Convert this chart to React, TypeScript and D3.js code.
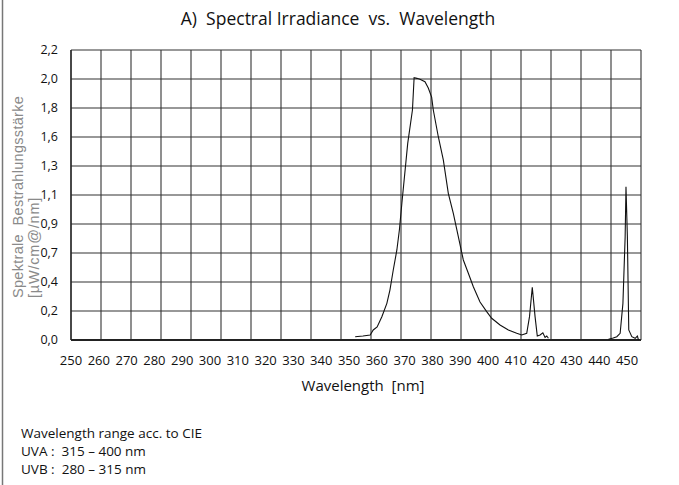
import * as d3 from 'd3';

// wavelength [nm] / spectral irradiance, null = gap in the trace
const wavelengths = [
  352.2, 355.0, 357.6, 358.7, 360.1, 361.8, 363.6, 364.7, 365.9, 367.2, 368.1, 369.0,
  370.4, 371.1, 372.8, 373.4, 374.4, 375.5, 377.3, 378.5, 379.7, 380.3, 382.1, 383.9,
  385.7, 387.5, 389.3, 391.1, 392.9, 394.7, 397.1, 399.5, 401.3, 404.3, 407.3, 410.3,
  412.1, 413.9, 414.9, 415.9, 416.9, 417.7, 418.7, 419.7, 420.5, 421.1, 421.7,
  430.0,
  443.3, 445.0, 446.3, 447.5, 448.5, 449.3, 449.6, 450.1, 450.6, 451.7, 452.9, 453.7, 454.1,
];
const irradiance: (number | null)[] = [
  0.025, 0.03, 0.038, 0.076, 0.099, 0.177, 0.278, 0.379, 0.531, 0.683, 0.834, 1.037,
  1.34, 1.492, 1.745, 1.99, 1.985, 1.978, 1.96, 1.912, 1.843, 1.745, 1.542, 1.366,
  1.113, 0.961, 0.784, 0.607, 0.506, 0.404, 0.288, 0.215, 0.165, 0.114, 0.076, 0.051,
  0.038, 0.051, 0.177, 0.40, 0.177, 0.03, 0.038, 0.055, 0.02, 0.03, 0.013,
  null,
  0.005, 0.015, 0.025, 0.051, 0.278, 0.784, 1.163, 0.784, 0.076, 0.025, 0.013, 0.03, 0.0,
];

const xTicks = d3.range(250, 451, 10);
const yTickLabels = ['0,0', '0,2', '0,4', '0,7', '0,9', '1,1', '1,3', '1,6', '1,8', '2,0', '2,2'];
const yStep = 0.22;
const gridColumns = 19;

const notes = ['Wavelength range acc. to CIE', 'UVA :  315 – 400 nm', 'UVB :  280 – 315 nm'];

const W = 679;
const H = 485;
const plot = { left: 71, right: 641, top: 50, bottom: 340 };
const font = '"Open Sans", "Noto Sans", sans-serif';

export default function App() {
  const x = d3.scaleLinear().domain([250, 455]).range([plot.left, plot.right]);
  const y = d3.scaleLinear().domain([0, 2.2]).range([plot.bottom, plot.top]);
  const col = d3.scaleLinear().domain([0, gridColumns]).range([plot.left, plot.right]);

  const pts = wavelengths.map((w, i) => [w, irradiance[i]] as [number, number | null]);
  const line = d3
    .line<[number, number | null]>()
    .defined((d) => d[1] !== null)
    .x((d) => x(d[0]))
    .y((d) => y(d[1] as number));

  const rows = yTickLabels.map((l, i) => ({ label: l, v: i * yStep }));

  return (
    <div style={{ position: 'absolute', left: 0, top: 0 }}>
      <svg width={W} height={H} style={{ display: 'block', background: '#fff' }}>
        <line x1={2.5} x2={2.5} y1={0} y2={H} stroke="#777" strokeWidth={1.5} />

        <text x={338} y={25} textAnchor="middle" fontFamily={font} fontSize={17.5} fill="#111"
          style={{ whiteSpace: 'pre' }}>
          {'A)  Spectral Irradiance  vs.  Wavelength'}
        </text>

        {/* grid */}
        <g stroke="#333" strokeWidth={1.1}>
          {rows.map((r) => (
            <line key={r.label} x1={plot.left} x2={plot.right} y1={y(r.v)} y2={y(r.v)} />
          ))}
          {d3.range(0, gridColumns + 1).map((c) => (
            <line key={c} x1={col(c)} x2={col(c)} y1={plot.top} y2={plot.bottom} />
          ))}
        </g>
        <line x1={plot.left} x2={plot.right} y1={plot.bottom} y2={plot.bottom} stroke="#222" strokeWidth={2} />
        <line x1={plot.left} x2={plot.left} y1={plot.top} y2={plot.bottom} stroke="#222" strokeWidth={1.3} />

        <path d={line(pts) ?? ''} fill="none" stroke="#111" strokeWidth={1.1} />

        {/* y tick labels */}
        {rows.map((r) => (
          <text key={r.label} x={58} y={y(r.v) + 4} textAnchor="end" fontFamily={font} fontSize={12.5} fill="#111">
            {r.label}
          </text>
        ))}

        {/* x tick labels */}
        {xTicks.map((t) => (
          <text key={t} x={x(t)} y={364.5} textAnchor="middle" fontFamily={font} fontSize={13} fill="#111">
            {t}
          </text>
        ))}

        <text x={363} y={391} textAnchor="middle" fontFamily={font} fontSize={15} fill="#111"
          style={{ whiteSpace: 'pre' }}>
          {'Wavelength  [nm]'}
        </text>

        {/* y axis title */}
        <g fontFamily='"Liberation Sans", Arial, sans-serif' fontSize={14.5} fill="#8a8a8a" letterSpacing={0.3}>
          <text transform="translate(23,298) rotate(-90)" style={{ whiteSpace: 'pre' }}>
            {'Spektrale  Bestrahlungsstärke'}
          </text>
          <text transform="translate(39,298) rotate(-90)" letterSpacing={0.8}>{'[µW/cm@/nm]'}</text>
        </g>

        {notes.map((n, i) => (
          <text key={n} x={21} y={438 + i * 18} fontFamily={font} fontSize={13.5} fill="#111"
            style={{ whiteSpace: 'pre' }}>
            {n}
          </text>
        ))}
      </svg>
    </div>
  );
}
